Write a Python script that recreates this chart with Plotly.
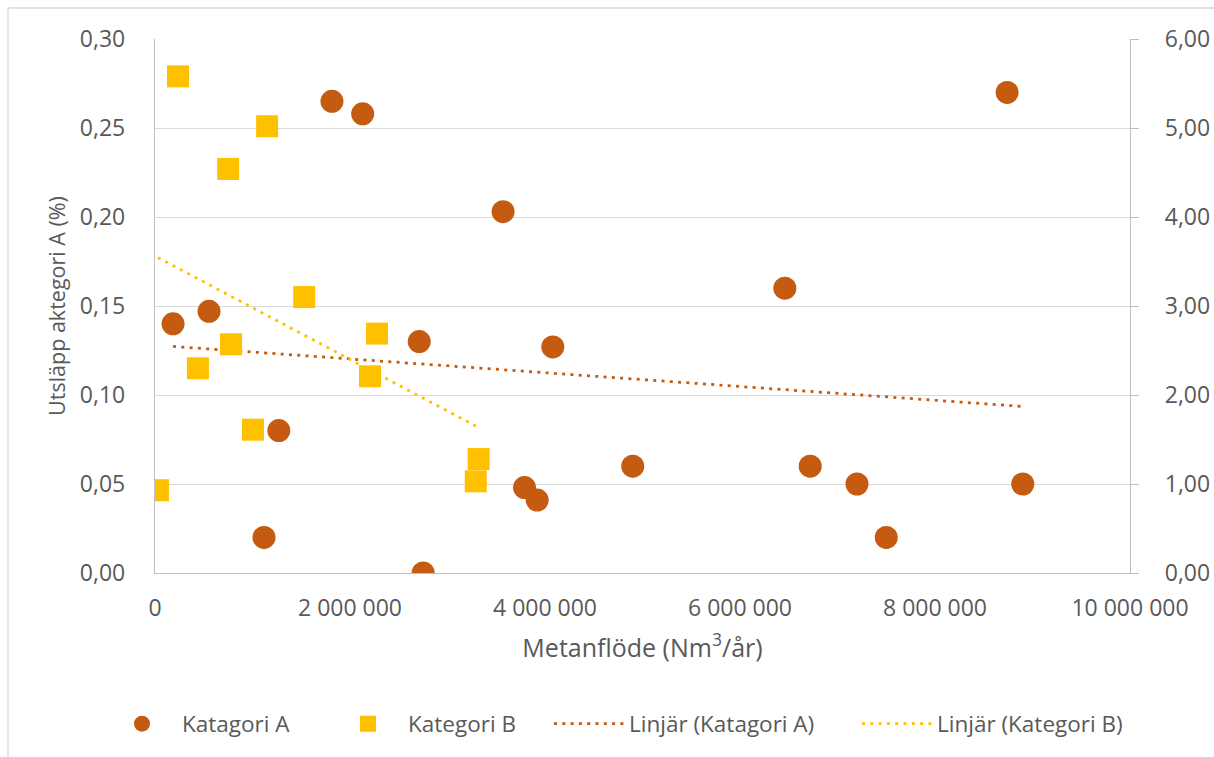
import numpy as np
import plotly.graph_objects as go

# Kategori A: methane flow (Nm3/year) and emission (%), left axis
flow_a = [185000, 554000, 1118000, 1270000, 1815000, 2130000, 2710000, 2750000,
          3570000, 3790000, 3920000, 4080000, 4900000, 6460000, 6720000, 7200000,
          7500000, 8740000, 8900000]
emis_a = [0.140, 0.147, 0.020, 0.080, 0.265, 0.258, 0.130, 0.000,
          0.203, 0.048, 0.041, 0.127, 0.060, 0.160, 0.060, 0.050,
          0.020, 0.270, 0.050]

# Kategori B: methane flow (Nm3/year) and emission, right axis
flow_b = [30000, 236000, 440000, 750000, 780000, 1005000, 1150000, 1530000,
          2205000, 2277000, 3290000, 3320000]
emis_b = [0.93, 5.58, 2.30, 4.54, 2.57, 1.61, 5.02, 3.10, 2.21, 2.69, 1.03, 1.28]

left_ticks = [0, 0.05, 0.10, 0.15, 0.20, 0.25, 0.30]
right_ticks = [0, 1, 2, 3, 4, 5, 6]
x_ticks = [0, 2000000, 4000000, 6000000, 8000000, 10000000]

COL_A = "#C55A11"
COL_B = "#FFC000"
TXT = "#595959"
FONT = "Open Sans"


def linear_trend(x, y):
    x = np.asarray(x, dtype=float)
    y = np.asarray(y, dtype=float)
    k, m = np.polyfit(x, y, 1)
    xs = np.array([x.min(), x.max()])
    return xs, k * xs + m


tx_a, ty_a = linear_trend(flow_a, emis_a)
tx_b, ty_b = linear_trend(flow_b, emis_b)

fig = go.Figure()

fig.add_trace(go.Scatter(
    x=flow_a, y=emis_a, mode="markers", name="Katagori A",
    marker=dict(symbol="circle", size=23, color=COL_A),
    legend="legend",
))
fig.add_trace(go.Scatter(
    x=flow_b, y=emis_b, mode="markers", name="Kategori B", yaxis="y2",
    marker=dict(symbol="square", size=22, color=COL_B),
    legend="legend2",
))
fig.add_trace(go.Scatter(
    x=tx_a, y=ty_a, mode="lines", name="Linjär (Katagori A)",
    line=dict(color=COL_A, width=2.75, dash="3px,5.3px"),
    legend="legend3",
))
fig.add_trace(go.Scatter(
    x=tx_b, y=ty_b, mode="lines", name="Linjär (Kategori B)", yaxis="y2",
    line=dict(color=COL_B, width=2.75, dash="3px,5.3px"),
    legend="legend4",
))

W, H = 1214, 757
L, R, T, B = 155, 84, 39, 184
pw, ph = W - L - R, H - T - B


def px_x(p):
    return (p - L) / pw


def px_y(p):
    return (H - B - p) / ph


def leg(px, py):
    return dict(
        x=px / W, y=1 - py / H, xref="container", yref="container",
        orientation="h", yanchor="middle", xanchor="left",
        font=dict(family=FONT, size=22.5, color=TXT),
        bgcolor="rgba(0,0,0,0)", itemwidth=70,
    )


fig.update_layout(
    width=W, height=H,
    margin=dict(l=L, r=R, t=T, b=B, autoexpand=False),
    paper_bgcolor="white", plot_bgcolor="white",
    separators=", ",
    showlegend=True,
    font=dict(family=FONT, color=TXT),
    legend=leg(102, 724),
    legend2=leg(328, 724),
    legend3=leg(549, 724),
    legend4=leg(857, 724),
    xaxis=dict(
        range=[0, 10000000], tickvals=x_ticks, tickformat=",.0f",
        showgrid=False, zeroline=False,
        showline=True, linecolor="#BFBFBF", linewidth=1.3,
        ticks="", tickfont=dict(family=FONT, size=23, color=TXT),
        ticklabelstandoff=14,
        title=dict(text="Metanflöde (Nm<sup>3</sup>/år)",
                   font=dict(family=FONT, size=25, color=TXT), standoff=17),
    ),
    yaxis=dict(
        range=[0, 0.30], tickvals=left_ticks, tickformat=".2f",
        showgrid=True, gridcolor="#D9D9D9", gridwidth=1.3,
        zeroline=False,
        showline=True, linecolor="#BFBFBF", linewidth=1.3,
        ticks="", tickfont=dict(family=FONT, size=23, color=TXT),
        ticklabelstandoff=24,
        title=dict(text="Utsläpp aktegori A (%)",
                   font=dict(family=FONT, size=21.5, color=TXT), standoff=8),
    ),
    yaxis2=dict(
        range=[0, 6], tickvals=right_ticks, tickformat=".2f",
        overlaying="y", side="right", anchor="x",
        showgrid=False, zeroline=False,
        showline=True, linecolor="#BFBFBF", linewidth=1.3,
        ticks="outside", ticklen=8, tickcolor="#BFBFBF", tickwidth=1.3,
        tickfont=dict(family=FONT, size=23, color=TXT),
        ticklabelstandoff=21,
    ),
    shapes=[dict(
        type="rect", xref="paper", yref="paper",
        x0=px_x(8), x1=px_x(1240), y0=px_y(8), y1=px_y(790),
        line=dict(color="#D9D9D9", width=1.3), fillcolor="rgba(0,0,0,0)",
        layer="below",
    )],
)

fig.write_html("out.html")
